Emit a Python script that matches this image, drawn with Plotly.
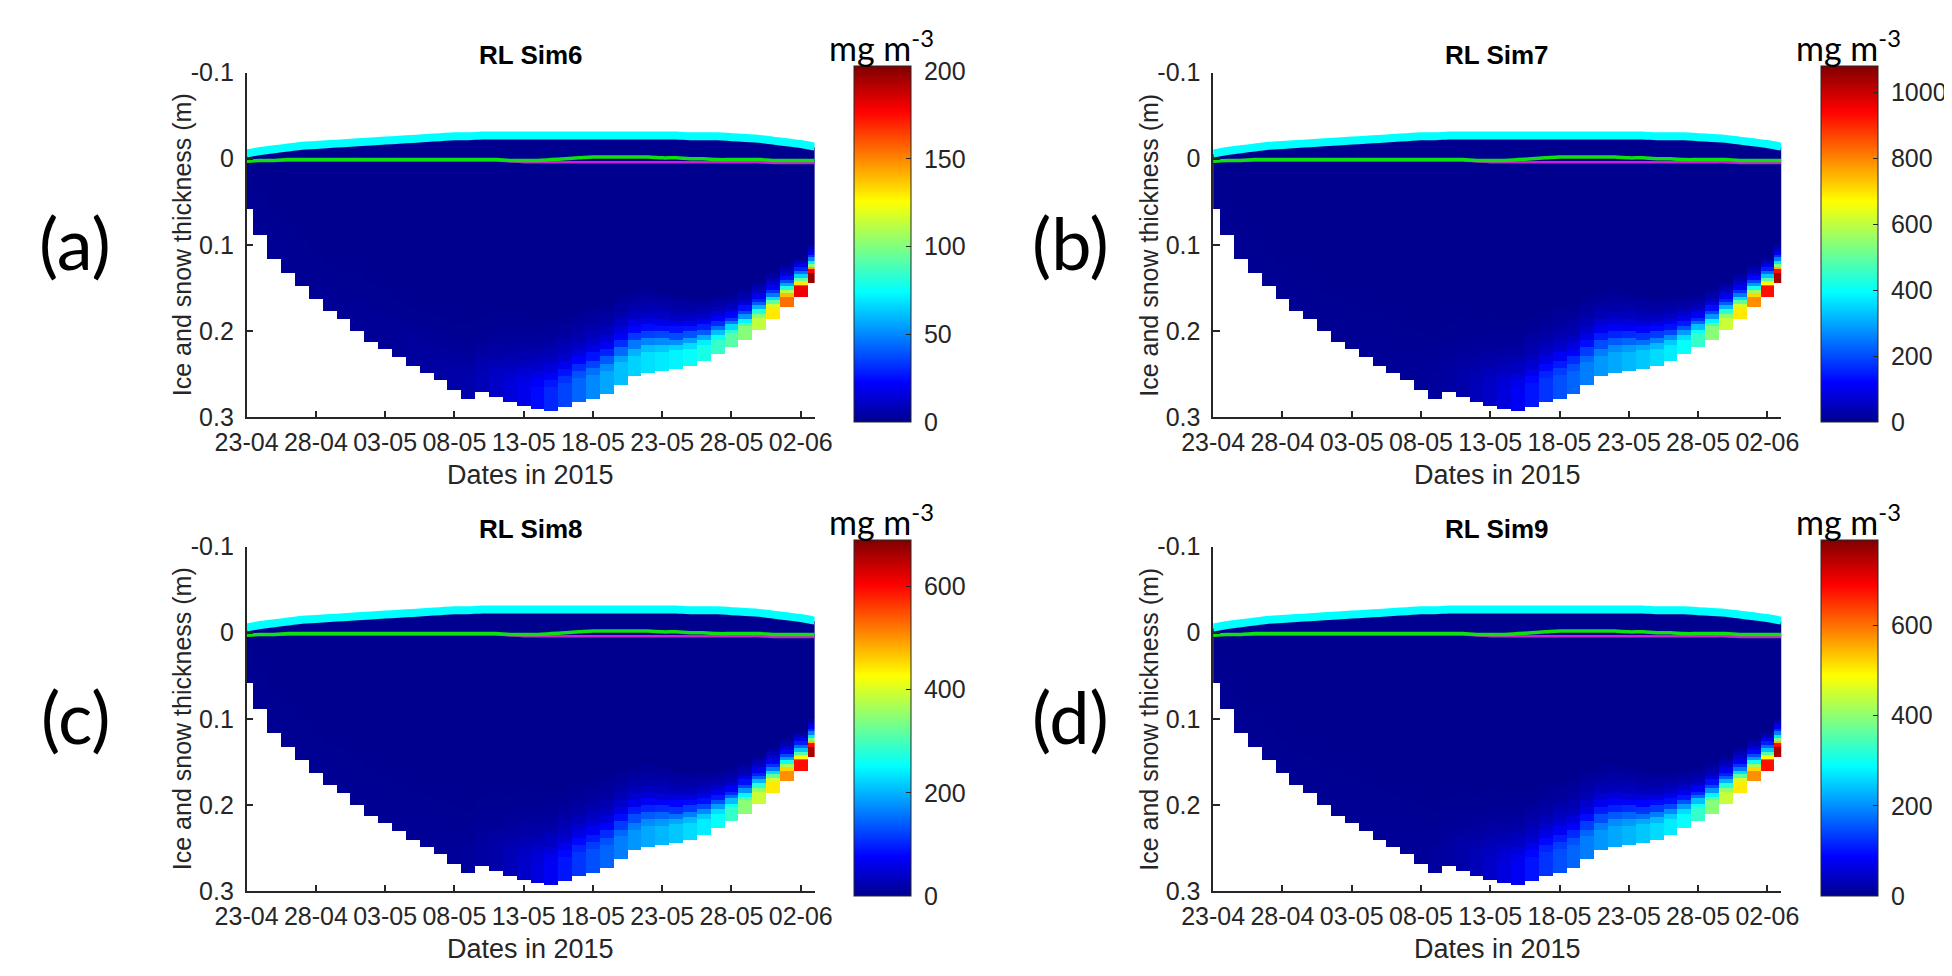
import numpy as np
import plotly.graph_objects as go

# ---------------- data ----------------
days = list(range(42))                      # model days since 23-04-2015
tick_days = [0, 5, 10, 15, 20, 25, 30, 35, 40]
tick_dates = ['23-04', '28-04', '03-05', '08-05', '13-05', '18-05', '23-05', '28-05', '02-06']

# snow surface (m, negative = above ice surface)
snow_surface = [-0.006, -0.009, -0.011, -0.013, -0.015, -0.016, -0.017, -0.018, -0.019, -0.020,
                -0.021, -0.022, -0.023, -0.024, -0.025, -0.026, -0.026, -0.027, -0.027, -0.027,
                -0.027, -0.027, -0.027, -0.027, -0.027, -0.027, -0.027, -0.027, -0.027, -0.027,
                -0.027, -0.027, -0.026, -0.026, -0.026, -0.025, -0.024, -0.023, -0.021, -0.019,
                -0.017, -0.014]
# ice surface (green) and magenta line
ice_surface = [0.003, 0.002, 0.002, 0.001, 0.001, 0.001, 0.001, 0.001, 0.001, 0.001,
               0.001, 0.001, 0.001, 0.001, 0.001, 0.001, 0.001, 0.001, 0.001, 0.002,
               0.002, 0.002, 0.001, 0.000, -0.001, -0.002, -0.002, -0.002, -0.002, -0.002,
               -0.001, -0.001, 0.000, 0.000, 0.001, 0.001, 0.001, 0.001, 0.002, 0.002,
               0.002, 0.002]
magenta_surface = [0.002, 0.002, 0.002, 0.002, 0.002, 0.002, 0.002, 0.002, 0.002, 0.002,
                   0.002, 0.002, 0.002, 0.002, 0.002, 0.002, 0.002, 0.002, 0.002, 0.003,
                   0.004, 0.004, 0.004, 0.004, 0.004, 0.004, 0.004, 0.004, 0.004, 0.004,
                   0.004, 0.004, 0.004, 0.004, 0.004, 0.004, 0.004, 0.004, 0.005, 0.005,
                   0.005, 0.005]
# ice bottom depth (m)
ice_bottom = [0.058, 0.088, 0.116, 0.131, 0.147, 0.162, 0.175, 0.186, 0.199, 0.211,
              0.220, 0.229, 0.239, 0.248, 0.256, 0.267, 0.277, 0.270, 0.276, 0.282,
              0.286, 0.290, 0.291, 0.287, 0.281, 0.277, 0.271, 0.261, 0.252, 0.248,
              0.246, 0.244, 0.240, 0.233, 0.226, 0.218, 0.209, 0.197, 0.185, 0.172,
              0.160, 0.143]
# thickness (m) of the high-concentration bottom layer
bottom_layer = [0.030, 0.030, 0.030, 0.030, 0.030, 0.030, 0.030, 0.030, 0.030, 0.030,
                0.030, 0.030, 0.030, 0.030, 0.030, 0.030, 0.032, 0.032, 0.034, 0.034,
                0.035, 0.035, 0.035, 0.035, 0.035, 0.035, 0.034, 0.034, 0.033, 0.032,
                0.030, 0.028, 0.026, 0.024, 0.022, 0.020, 0.019, 0.018, 0.017, 0.016,
                0.015, 0.014]

# bottom-layer chlorophyll (mg m-3) per day, for each simulation
chl_sim6 = [1, 1, 1, 1, 1, 1, 1, 1, 2, 2, 2, 2, 3, 3, 4, 5, 6, 8, 11, 15,
            19, 24, 30, 36, 43, 50, 56, 61, 65, 68, 70, 72, 75, 79, 85, 92,
            101, 113, 130, 155, 180, 198]
chl_sim7 = [3, 3, 3, 3, 3, 3, 3, 4, 4, 5, 5, 6, 7, 8, 9, 11, 14, 20, 30, 45,
            62, 85, 110, 140, 175, 205, 228, 255, 282, 300, 318, 335, 355, 375, 400, 450,
            540, 610, 690, 790, 930, 1035]
chl_sim8 = [2, 2, 2, 2, 2, 2, 2, 3, 3, 3, 3, 4, 4, 5, 6, 7, 9, 13, 19, 29,
            40, 54, 70, 90, 112, 131, 146, 163, 180, 192, 203, 214, 227, 240, 256, 288,
            345, 390, 441, 505, 595, 662]
chl_sim9 = [2, 2, 2, 2, 2, 2, 2, 3, 3, 4, 4, 4, 5, 6, 7, 8, 10, 15, 22, 33,
            45, 62, 80, 102, 128, 150, 167, 186, 206, 219, 232, 245, 259, 274, 292, 329,
            394, 445, 504, 577, 679, 756]
# fraction of bottom value in quarter-layer steps above the ice bottom
band_fraction = [1.0, 1.0, 1.0, 0.9, 0.72, 0.52, 0.36, 0.25, 0.16, 0.1, 0.06, 0.03]

titles = ['RL Sim6', 'RL Sim7', 'RL Sim8', 'RL Sim9']
panel_labels = ['(a)', '(b)', '(c)', '(d)']
cbar_max = [203, 1080, 690, 790]
cbar_ticks = [[0, 50, 100, 150, 200], [0, 200, 400, 600, 800, 1000],
              [0, 200, 400, 600], [0, 200, 400, 600]]
y_ticks = [-0.1, 0, 0.1, 0.2, 0.3]
y_ticktext = ['-0.1', '0', '0.1', '0.2', '0.3']
chl_all = [chl_sim6, chl_sim7, chl_sim8, chl_sim9]

# ---------------- layout geometry (pixels) ----------------
W, H = 1952, 976
ax_left = [212, 1204]
ax_w = 583
row_top = [52, 540]
ax_h = 355
cb_left = [835, 1828]
cb_w = 57
label_x = [36, 1058]

jet = [[0.0, 'rgb(0,0,143)'], [0.111, 'rgb(0,0,255)'], [0.365, 'rgb(0,255,255)'],
       [0.619, 'rgb(255,255,0)'], [0.873, 'rgb(255,0,0)'], [1.0, 'rgb(128,0,0)']]

FONT = 'Liberation Sans, Arial, sans-serif'
LFONT = 'Lato, Open Sans, sans-serif'
GREY = '#262626'
NB = '\u00a0'

def px(x):
    return x / W

def py(y):
    return 1 - y / H

# grid of depth cells
dy = 0.002
y_cells = np.round(np.arange(-0.035, 0.300, dy), 4)

fig = go.Figure()
annotations = []
layout = {}

for i in range(4):
    col, row = i % 2, i // 2
    n = i + 1
    xa = 'x' if n == 1 else f'x{n}'
    ya = 'y' if n == 1 else f'y{n}'
    ca = 'coloraxis' if n == 1 else f'coloraxis{n}'
    chl = chl_all[i]

    z = np.full((len(y_cells), len(days)), np.nan)
    for j in range(len(days)):
        step = bottom_layer[j] / 4
        for k, yc in enumerate(y_cells):
            if yc < snow_surface[j] or yc > ice_bottom[j]:
                continue
            band = int((ice_bottom[j] - yc) / step)
            f = band_fraction[band] if band < len(band_fraction) else 0.0
            z[k, j] = chl[j] * f

    fig.add_trace(go.Heatmap(x=days, y=y_cells, z=z, coloraxis=ca, xaxis=xa, yaxis=ya,
                             hoverongaps=False))
    fig.add_trace(go.Scatter(x=days, y=magenta_surface, mode='lines', xaxis=xa, yaxis=ya,
                             line=dict(color='#d020d0', width=2.5, shape='spline'), showlegend=False))
    fig.add_trace(go.Scatter(x=days, y=ice_surface, mode='lines', xaxis=xa, yaxis=ya,
                             line=dict(color='#10e010', width=3.5, shape='spline'), showlegend=False))
    fig.add_trace(go.Scatter(x=days, y=snow_surface, mode='lines', xaxis=xa, yaxis=ya,
                             line=dict(color='#00ffff', width=8, shape='spline'), showlegend=False))

    l = ax_left[col]
    t = row_top[row]
    axstyle = dict(ticks='inside', ticklen=7, tickwidth=1.5, tickcolor=GREY, showline=True,
                   linecolor=GREY, linewidth=1.5, showgrid=False, zeroline=False,
                   tickfont=dict(family=FONT, size=25, color=GREY))
    layout['xaxis' if n == 1 else f'xaxis{n}'] = dict(
        domain=[px(l), px(l + ax_w)], range=[0, 41], tickvals=tick_days, ticktext=tick_dates,
        anchor=ya, ticklabelstandoff=2, **axstyle)
    layout['yaxis' if n == 1 else f'yaxis{n}'] = dict(
        domain=[py(t + ax_h), py(t)], range=[0.3, -0.1], tickvals=y_ticks, ticktext=y_ticktext,
        anchor=xa, ticklabelstandoff=6, **axstyle)
    layout[ca] = dict(
        colorscale=jet, cmin=0, cmax=cbar_max[i],
        colorbar=dict(x=px(cb_left[col]), xanchor='left', xpad=0, ypad=0,
                      y=py(t - 1 + ax_h / 2), yanchor='middle', lenmode='pixels', len=ax_h + 1,
                      thicknessmode='pixels', thickness=cb_w, outlinecolor=GREY, outlinewidth=1,
                      tickvals=cbar_ticks[i], ticktext=[NB + str(v) for v in cbar_ticks[i]],
                      ticks='inside', ticklen=5, tickcolor=GREY,
                      tickfont=dict(family=FONT, size=25, color=GREY)))

    cx = l + ax_w / 2
    common = dict(xref='paper', yref='paper', showarrow=False, xanchor='center', yanchor='middle')
    annotations += [
        dict(x=px(cx), y=py(t - 18), text='<b>' + titles[i] + '</b>',
             font=dict(family=FONT, size=26, color='black'), **common),
        dict(x=px(cx), y=py(t + ax_h + 59), text='Dates in 2015',
             font=dict(family=FONT, size=27, color=GREY), **common),
        dict(x=px(l - 66), y=py(t + ax_h / 2), text='Ice and snow thickness (m)',
             textangle=-90, font=dict(family=FONT, size=25, color=GREY), **common),
        dict(x=px(label_x[col]), y=py(t + 175), text=panel_labels[i],
             font=dict(family=LFONT, size=72, color='black'), **common),
        dict(x=px(cb_left[col] + cb_w / 2), y=py(t - 27), text='mg m<sup>-3</sup>',
             font=dict(family=LFONT, size=34, color='black'), **common),
    ]

fig.update_layout(width=W, height=H, margin=dict(l=0, r=0, t=0, b=0),
                  paper_bgcolor='white', plot_bgcolor='white', showlegend=False,
                  annotations=annotations, **layout)
fig.write_html('out.html')
